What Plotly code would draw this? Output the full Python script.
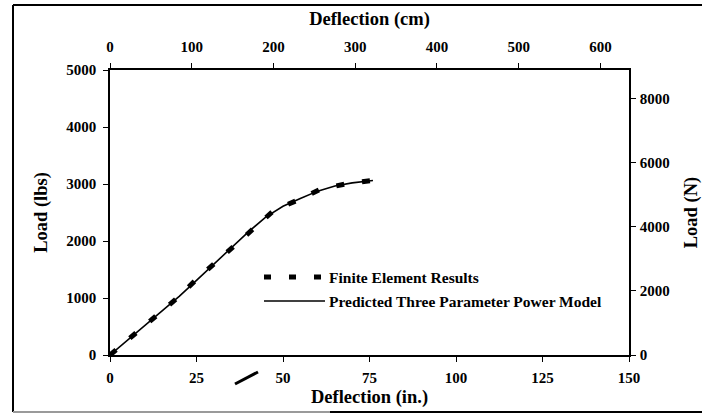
import plotly.graph_objects as go

# ---- data ----
fe_defl_in = [0, 6.8, 13.0, 19.1, 24.6, 30.1, 35.7, 41.5, 47.3, 54.3, 60.9, 69.1, 75.5]
fe_load_lbs = [0, 340, 667, 982, 1304, 1596, 1918, 2222, 2532, 2719, 2912, 3012, 3058]

pred_defl_in = [0, 5, 10, 15, 20, 25, 30, 35, 40, 45, 50, 55, 60, 65, 70, 76]
pred_load_lbs = [0, 255, 510, 770, 1030, 1310, 1590, 1880, 2160, 2420, 2610, 2745, 2875, 2965, 3020, 3062]

x_in_ticks = [0, 25, 50, 75, 100, 125, 150]
x_cm_ticks = [0, 100, 200, 300, 400, 500, 600]
y_lbs_ticks = [0, 1000, 2000, 3000, 4000, 5000]
y_n_ticks = [0, 2000, 4000, 6000, 8000]

legend_labels = ["Finite Element Results", "Predicted Three Parameter Power Model"]

FONT = "Liberation Serif"
tickfont = dict(family=FONT, size=15, color="black", weight=700)
titlefont = dict(family=FONT, size=18.5, color="black", weight=700)
legendfont = dict(family=FONT, size=15.5, color="black", weight=700)

# target plot area in page pixels
PX0, PX1, PY0, PY1 = 110, 629, 70, 355
W, H = 702, 415
L, T = PX0, PY0
R = W - L - (PX1 - PX0)
B = H - T - (PY1 - PY0)
pw, ph = PX1 - PX0, PY1 - PY0


def px(xp):
    return (xp - PX0) / pw


def py(yp):
    return (PY1 - yp) / ph


fig = go.Figure()
fig.add_trace(go.Scatter(
    x=fe_defl_in, y=fe_load_lbs, mode="lines", name=legend_labels[0],
    line=dict(color="black", width=5, dash="8px,18px"), showlegend=False,
))
fig.add_trace(go.Scatter(
    x=pred_defl_in, y=pred_load_lbs, mode="lines", name=legend_labels[1],
    line=dict(color="black", width=1.6), showlegend=False,
))
# dummy trace to activate secondary axes
fig.add_trace(go.Scatter(x=[0], y=[0], xaxis="x2", yaxis="y2", mode="markers",
                         marker=dict(opacity=0), showlegend=False, hoverinfo="skip"))

axis_common = dict(showgrid=False, zeroline=False, showline=True, linecolor="black",
                   linewidth=1.5, ticks="outside", ticklen=5, tickwidth=1.2,
                   tickcolor="black", tickfont=tickfont)

shapes = [
    # outer frame of the scanned figure
    dict(type="line", xref="paper", yref="paper", x0=px(13), x1=px(13), y0=py(5), y1=py(412),
         line=dict(color="black", width=2)),
    dict(type="line", xref="paper", yref="paper", x0=px(13), x1=px(702), y0=py(5), y1=py(5),
         line=dict(color="black", width=2)),
    dict(type="line", xref="paper", yref="paper", x0=px(13), x1=px(330), y0=py(412), y1=py(412),
         line=dict(color="#9a9a9a", width=2)),
    dict(type="line", xref="paper", yref="paper", x0=px(330), x1=px(702), y0=py(412), y1=py(412),
         line=dict(color="black", width=2)),
    # scan artifact between tick labels
    dict(type="line", xref="paper", yref="paper", x0=px(235), x1=px(258), y0=py(384), y1=py(372),
         line=dict(color="black", width=3)),
    # legend symbols
    dict(type="line", xref="paper", yref="paper", x0=px(264), x1=px(325), y0=py(277), y1=py(277),
         line=dict(color="black", width=5, dash="7px,18px")),
    dict(type="line", xref="paper", yref="paper", x0=px(264), x1=px(325), y0=py(301), y1=py(301),
         line=dict(color="black", width=1.6)),
]

annotations = [
    dict(text=legend_labels[0], xref="paper", yref="paper", x=px(327), y=py(277),
         xanchor="left", yanchor="middle", showarrow=False, font=legendfont),
    dict(text=legend_labels[1], xref="paper", yref="paper", x=px(327), y=py(301),
         xanchor="left", yanchor="middle", showarrow=False, font=legendfont),
]

fig.update_layout(
    width=W, height=H,
    margin=dict(l=L, r=R, t=T, b=B, autoexpand=False),
    paper_bgcolor="white", plot_bgcolor="white",
    showlegend=False,
    xaxis=dict(range=[0, 150], tickvals=x_in_ticks, ticklabelstandoff=3, **axis_common,
               title=dict(text="Deflection (in.)", font=titlefont, standoff=5)),
    yaxis=dict(range=[0, 5000], tickvals=y_lbs_ticks, ticklabelstandoff=4, **axis_common,
               title=dict(text="Load (lbs)", font=titlefont, standoff=14)),
    xaxis2=dict(range=[0, 635], tickvals=x_cm_ticks, overlaying="x", side="top", anchor="y",
                ticklabelstandoff=5, **axis_common,
                title=dict(text="Deflection (cm)", font=titlefont, standoff=9)),
    yaxis2=dict(range=[0, 8900], tickvals=y_n_ticks, overlaying="y", side="right", anchor="x",
                ticklabelstandoff=1, **axis_common,
                title=dict(text="Load (N)", font=titlefont, standoff=19)),
    shapes=shapes,
    annotations=annotations,
)

fig.write_html(
    "out.html",
    config={"displayModeBar": False},
    post_script="document.body.style.margin='0';document.body.style.overflow='hidden';",
)
